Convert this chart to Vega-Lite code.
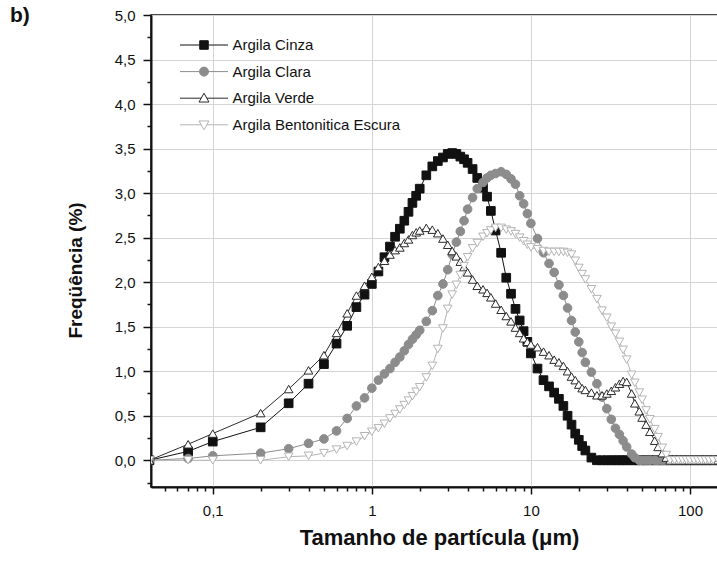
{
  "$schema": "https://vega.github.io/schema/vega-lite/v6.json",
  "width": 570,
  "height": 472,
  "autosize": {"type": "none"},
  "padding": {"left": 151, "top": 15, "right": 0, "bottom": 74},
  "background": "white",
  "config": {
    "view": {"stroke": "#111", "strokeWidth": 1.5},
    "font": "Liberation Sans",
    "legend": {
      "title": null, "orient": "none", "legendX": 28.5, "legendY": 22.5, "padding": 0,
      "symbolSize": 81, "symbolStrokeWidth": 1, "symbolOffset": 17, "symbolOpacity": 1,
      "rowPadding": 10.6, "labelOffset": 21,
      "labelFont": "Liberation Sans", "labelFontSize": 15, "labelColor": "#111", "labelLimit": 400
    }
  },
  "title": {"text": "b)", "anchor": "start", "frame": "group", "dx": -141, "dy": 35, "offset": 0, "baseline": "alphabetic", "fontSize": 21, "fontWeight": "bold", "font": "Liberation Sans", "color": "#111"},
  "data": {"values": [
    {"s":"Argila Cinza","x":0.04,"y":0},{"s":"Argila Cinza","x":0.07,"y":0.10},{"s":"Argila Cinza","x":0.1,"y":0.21},{"s":"Argila Cinza","x":0.2,"y":0.37},{"s":"Argila Cinza","x":0.3,"y":0.64},{"s":"Argila Cinza","x":0.4,"y":0.86},{"s":"Argila Cinza","x":0.5,"y":1.08},{"s":"Argila Cinza","x":0.6,"y":1.31},{"s":"Argila Cinza","x":0.7,"y":1.51},{"s":"Argila Cinza","x":0.8,"y":1.72},{"s":"Argila Cinza","x":0.9,"y":1.86},{"s":"Argila Cinza","x":1,"y":1.98},{"s":"Argila Cinza","x":1.1,"y":2.12},{"s":"Argila Cinza","x":1.2,"y":2.28},{"s":"Argila Cinza","x":1.3,"y":2.40},{"s":"Argila Cinza","x":1.4,"y":2.51},{"s":"Argila Cinza","x":1.5,"y":2.60},{"s":"Argila Cinza","x":1.6,"y":2.69},{"s":"Argila Cinza","x":1.7,"y":2.79},{"s":"Argila Cinza","x":1.8,"y":2.89},{"s":"Argila Cinza","x":1.9,"y":2.97},{"s":"Argila Cinza","x":2,"y":3.05},{"s":"Argila Cinza","x":2.2,"y":3.20},{"s":"Argila Cinza","x":2.4,"y":3.30},{"s":"Argila Cinza","x":2.6,"y":3.36},{"s":"Argila Cinza","x":2.8,"y":3.40},{"s":"Argila Cinza","x":3,"y":3.44},{"s":"Argila Cinza","x":3.2,"y":3.45},{"s":"Argila Cinza","x":3.4,"y":3.44},{"s":"Argila Cinza","x":3.6,"y":3.41},{"s":"Argila Cinza","x":3.8,"y":3.38},{"s":"Argila Cinza","x":4,"y":3.34},{"s":"Argila Cinza","x":4.3,"y":3.27},{"s":"Argila Cinza","x":4.6,"y":3.17},{"s":"Argila Cinza","x":5,"y":3.06},{"s":"Argila Cinza","x":5.3,"y":2.96},{"s":"Argila Cinza","x":5.6,"y":2.80},{"s":"Argila Cinza","x":6,"y":2.58},{"s":"Argila Cinza","x":6.5,"y":2.33},{"s":"Argila Cinza","x":7,"y":2.05},{"s":"Argila Cinza","x":7.5,"y":1.87},{"s":"Argila Cinza","x":8,"y":1.70},{"s":"Argila Cinza","x":8.5,"y":1.57},{"s":"Argila Cinza","x":9,"y":1.45},{"s":"Argila Cinza","x":9.5,"y":1.33},{"s":"Argila Cinza","x":10,"y":1.20},{"s":"Argila Cinza","x":11,"y":1.03},{"s":"Argila Cinza","x":12,"y":0.90},{"s":"Argila Cinza","x":13,"y":0.83},{"s":"Argila Cinza","x":14,"y":0.76},{"s":"Argila Cinza","x":15,"y":0.69},{"s":"Argila Cinza","x":16,"y":0.61},{"s":"Argila Cinza","x":17,"y":0.50},{"s":"Argila Cinza","x":18,"y":0.40},{"s":"Argila Cinza","x":19,"y":0.30},{"s":"Argila Cinza","x":20,"y":0.23},{"s":"Argila Cinza","x":21,"y":0.16},{"s":"Argila Cinza","x":22,"y":0.11},{"s":"Argila Cinza","x":24,"y":0.03},{"s":"Argila Cinza","x":26,"y":0},{"s":"Argila Cinza","x":28,"y":0},{"s":"Argila Cinza","x":30,"y":0},{"s":"Argila Cinza","x":32,"y":0},{"s":"Argila Cinza","x":34,"y":0},{"s":"Argila Cinza","x":36,"y":0},{"s":"Argila Cinza","x":38,"y":0},{"s":"Argila Cinza","x":40,"y":0},{"s":"Argila Cinza","x":43,"y":0},{"s":"Argila Cinza","x":45,"y":0},{"s":"Argila Cinza","x":48,"y":0},{"s":"Argila Cinza","x":50,"y":0},{"s":"Argila Cinza","x":53,"y":0},{"s":"Argila Cinza","x":56,"y":0},{"s":"Argila Cinza","x":60,"y":0},{"s":"Argila Cinza","x":63,"y":0},{"s":"Argila Cinza","x":67,"y":0},{"s":"Argila Cinza","x":71,"y":0},{"s":"Argila Cinza","x":75,"y":0},{"s":"Argila Cinza","x":80,"y":0},{"s":"Argila Cinza","x":85,"y":0},{"s":"Argila Cinza","x":90,"y":0},{"s":"Argila Cinza","x":95,"y":0},{"s":"Argila Cinza","x":100,"y":0},{"s":"Argila Cinza","x":106,"y":0},{"s":"Argila Cinza","x":112,"y":0},{"s":"Argila Cinza","x":118,"y":0},{"s":"Argila Cinza","x":125,"y":0},{"s":"Argila Cinza","x":132,"y":0},{"s":"Argila Cinza","x":140,"y":0},{"s":"Argila Cinza","x":150,"y":0},{"s":"Argila Cinza","x":160,"y":0},
    {"s":"Argila Clara","x":0.04,"y":0},{"s":"Argila Clara","x":0.07,"y":0.02},{"s":"Argila Clara","x":0.1,"y":0.05},{"s":"Argila Clara","x":0.2,"y":0.08},{"s":"Argila Clara","x":0.3,"y":0.13},{"s":"Argila Clara","x":0.4,"y":0.19},{"s":"Argila Clara","x":0.5,"y":0.24},{"s":"Argila Clara","x":0.6,"y":0.33},{"s":"Argila Clara","x":0.7,"y":0.47},{"s":"Argila Clara","x":0.8,"y":0.61},{"s":"Argila Clara","x":0.9,"y":0.70},{"s":"Argila Clara","x":1,"y":0.81},{"s":"Argila Clara","x":1.1,"y":0.90},{"s":"Argila Clara","x":1.2,"y":0.97},{"s":"Argila Clara","x":1.3,"y":1.03},{"s":"Argila Clara","x":1.4,"y":1.10},{"s":"Argila Clara","x":1.5,"y":1.16},{"s":"Argila Clara","x":1.6,"y":1.23},{"s":"Argila Clara","x":1.7,"y":1.30},{"s":"Argila Clara","x":1.8,"y":1.36},{"s":"Argila Clara","x":1.9,"y":1.41},{"s":"Argila Clara","x":2,"y":1.46},{"s":"Argila Clara","x":2.2,"y":1.56},{"s":"Argila Clara","x":2.4,"y":1.68},{"s":"Argila Clara","x":2.6,"y":1.85},{"s":"Argila Clara","x":2.8,"y":1.98},{"s":"Argila Clara","x":3,"y":2.14},{"s":"Argila Clara","x":3.2,"y":2.31},{"s":"Argila Clara","x":3.4,"y":2.45},{"s":"Argila Clara","x":3.6,"y":2.57},{"s":"Argila Clara","x":3.8,"y":2.69},{"s":"Argila Clara","x":4,"y":2.82},{"s":"Argila Clara","x":4.3,"y":2.95},{"s":"Argila Clara","x":4.6,"y":3.05},{"s":"Argila Clara","x":5,"y":3.12},{"s":"Argila Clara","x":5.3,"y":3.17},{"s":"Argila Clara","x":5.6,"y":3.20},{"s":"Argila Clara","x":6,"y":3.22},{"s":"Argila Clara","x":6.5,"y":3.24},{"s":"Argila Clara","x":7,"y":3.21},{"s":"Argila Clara","x":7.5,"y":3.16},{"s":"Argila Clara","x":8,"y":3.10},{"s":"Argila Clara","x":8.5,"y":2.97},{"s":"Argila Clara","x":9,"y":2.88},{"s":"Argila Clara","x":9.5,"y":2.77},{"s":"Argila Clara","x":10,"y":2.66},{"s":"Argila Clara","x":11,"y":2.49},{"s":"Argila Clara","x":12,"y":2.33},{"s":"Argila Clara","x":13,"y":2.21},{"s":"Argila Clara","x":14,"y":2.11},{"s":"Argila Clara","x":15,"y":1.97},{"s":"Argila Clara","x":16,"y":1.85},{"s":"Argila Clara","x":17,"y":1.71},{"s":"Argila Clara","x":18,"y":1.57},{"s":"Argila Clara","x":19,"y":1.44},{"s":"Argila Clara","x":20,"y":1.33},{"s":"Argila Clara","x":21,"y":1.21},{"s":"Argila Clara","x":22,"y":1.10},{"s":"Argila Clara","x":24,"y":0.99},{"s":"Argila Clara","x":26,"y":0.86},{"s":"Argila Clara","x":28,"y":0.71},{"s":"Argila Clara","x":30,"y":0.58},{"s":"Argila Clara","x":32,"y":0.46},{"s":"Argila Clara","x":34,"y":0.36},{"s":"Argila Clara","x":36,"y":0.29},{"s":"Argila Clara","x":38,"y":0.22},{"s":"Argila Clara","x":40,"y":0.15},{"s":"Argila Clara","x":43,"y":0.07},{"s":"Argila Clara","x":45,"y":0.03},{"s":"Argila Clara","x":48,"y":0},{"s":"Argila Clara","x":50,"y":0},{"s":"Argila Clara","x":53,"y":0},{"s":"Argila Clara","x":56,"y":0},{"s":"Argila Clara","x":60,"y":0},{"s":"Argila Clara","x":63,"y":0},{"s":"Argila Clara","x":67,"y":0},{"s":"Argila Clara","x":71,"y":0},{"s":"Argila Clara","x":75,"y":0},{"s":"Argila Clara","x":80,"y":0},{"s":"Argila Clara","x":85,"y":0},{"s":"Argila Clara","x":90,"y":0},{"s":"Argila Clara","x":95,"y":0},{"s":"Argila Clara","x":100,"y":0},{"s":"Argila Clara","x":106,"y":0},{"s":"Argila Clara","x":112,"y":0},{"s":"Argila Clara","x":118,"y":0},{"s":"Argila Clara","x":125,"y":0},{"s":"Argila Clara","x":132,"y":0},{"s":"Argila Clara","x":140,"y":0},{"s":"Argila Clara","x":150,"y":0},{"s":"Argila Clara","x":160,"y":0},
    {"s":"Argila Verde","x":0.04,"y":0},{"s":"Argila Verde","x":0.07,"y":0.18},{"s":"Argila Verde","x":0.1,"y":0.30},{"s":"Argila Verde","x":0.2,"y":0.53},{"s":"Argila Verde","x":0.3,"y":0.80},{"s":"Argila Verde","x":0.4,"y":1.01},{"s":"Argila Verde","x":0.5,"y":1.18},{"s":"Argila Verde","x":0.6,"y":1.43},{"s":"Argila Verde","x":0.7,"y":1.65},{"s":"Argila Verde","x":0.8,"y":1.85},{"s":"Argila Verde","x":0.9,"y":1.96},{"s":"Argila Verde","x":1,"y":2.06},{"s":"Argila Verde","x":1.1,"y":2.17},{"s":"Argila Verde","x":1.2,"y":2.24},{"s":"Argila Verde","x":1.3,"y":2.31},{"s":"Argila Verde","x":1.4,"y":2.36},{"s":"Argila Verde","x":1.5,"y":2.39},{"s":"Argila Verde","x":1.6,"y":2.44},{"s":"Argila Verde","x":1.7,"y":2.48},{"s":"Argila Verde","x":1.8,"y":2.53},{"s":"Argila Verde","x":1.9,"y":2.56},{"s":"Argila Verde","x":2,"y":2.58},{"s":"Argila Verde","x":2.2,"y":2.61},{"s":"Argila Verde","x":2.4,"y":2.59},{"s":"Argila Verde","x":2.6,"y":2.55},{"s":"Argila Verde","x":2.8,"y":2.49},{"s":"Argila Verde","x":3,"y":2.42},{"s":"Argila Verde","x":3.2,"y":2.35},{"s":"Argila Verde","x":3.4,"y":2.29},{"s":"Argila Verde","x":3.6,"y":2.23},{"s":"Argila Verde","x":3.8,"y":2.17},{"s":"Argila Verde","x":4,"y":2.11},{"s":"Argila Verde","x":4.3,"y":2.03},{"s":"Argila Verde","x":4.6,"y":1.96},{"s":"Argila Verde","x":5,"y":1.92},{"s":"Argila Verde","x":5.3,"y":1.88},{"s":"Argila Verde","x":5.6,"y":1.83},{"s":"Argila Verde","x":6,"y":1.76},{"s":"Argila Verde","x":6.5,"y":1.69},{"s":"Argila Verde","x":7,"y":1.62},{"s":"Argila Verde","x":7.5,"y":1.56},{"s":"Argila Verde","x":8,"y":1.49},{"s":"Argila Verde","x":8.5,"y":1.43},{"s":"Argila Verde","x":9,"y":1.37},{"s":"Argila Verde","x":9.5,"y":1.33},{"s":"Argila Verde","x":10,"y":1.30},{"s":"Argila Verde","x":11,"y":1.27},{"s":"Argila Verde","x":12,"y":1.22},{"s":"Argila Verde","x":13,"y":1.18},{"s":"Argila Verde","x":14,"y":1.13},{"s":"Argila Verde","x":15,"y":1.10},{"s":"Argila Verde","x":16,"y":1.06},{"s":"Argila Verde","x":17,"y":1.00},{"s":"Argila Verde","x":18,"y":0.94},{"s":"Argila Verde","x":19,"y":0.90},{"s":"Argila Verde","x":20,"y":0.85},{"s":"Argila Verde","x":21,"y":0.81},{"s":"Argila Verde","x":22,"y":0.79},{"s":"Argila Verde","x":24,"y":0.76},{"s":"Argila Verde","x":26,"y":0.73},{"s":"Argila Verde","x":28,"y":0.73},{"s":"Argila Verde","x":30,"y":0.75},{"s":"Argila Verde","x":32,"y":0.78},{"s":"Argila Verde","x":34,"y":0.82},{"s":"Argila Verde","x":36,"y":0.86},{"s":"Argila Verde","x":38,"y":0.89},{"s":"Argila Verde","x":40,"y":0.88},{"s":"Argila Verde","x":43,"y":0.75},{"s":"Argila Verde","x":45,"y":0.64},{"s":"Argila Verde","x":48,"y":0.55},{"s":"Argila Verde","x":50,"y":0.48},{"s":"Argila Verde","x":53,"y":0.40},{"s":"Argila Verde","x":56,"y":0.32},{"s":"Argila Verde","x":60,"y":0.22},{"s":"Argila Verde","x":63,"y":0.15},{"s":"Argila Verde","x":67,"y":0.08},{"s":"Argila Verde","x":71,"y":0.03},{"s":"Argila Verde","x":75,"y":0},{"s":"Argila Verde","x":80,"y":0},{"s":"Argila Verde","x":85,"y":0},{"s":"Argila Verde","x":90,"y":0},{"s":"Argila Verde","x":95,"y":0},{"s":"Argila Verde","x":100,"y":0},{"s":"Argila Verde","x":106,"y":0},{"s":"Argila Verde","x":112,"y":0},{"s":"Argila Verde","x":118,"y":0},{"s":"Argila Verde","x":125,"y":0},{"s":"Argila Verde","x":132,"y":0},{"s":"Argila Verde","x":140,"y":0},{"s":"Argila Verde","x":150,"y":0},{"s":"Argila Verde","x":160,"y":0},
    {"s":"Argila Bentonitica Escura","x":0.04,"y":0},{"s":"Argila Bentonitica Escura","x":0.07,"y":0},{"s":"Argila Bentonitica Escura","x":0.1,"y":0},{"s":"Argila Bentonitica Escura","x":0.2,"y":0},{"s":"Argila Bentonitica Escura","x":0.3,"y":0.04},{"s":"Argila Bentonitica Escura","x":0.4,"y":0.05},{"s":"Argila Bentonitica Escura","x":0.5,"y":0.08},{"s":"Argila Bentonitica Escura","x":0.6,"y":0.12},{"s":"Argila Bentonitica Escura","x":0.7,"y":0.16},{"s":"Argila Bentonitica Escura","x":0.8,"y":0.21},{"s":"Argila Bentonitica Escura","x":0.9,"y":0.27},{"s":"Argila Bentonitica Escura","x":1,"y":0.32},{"s":"Argila Bentonitica Escura","x":1.1,"y":0.36},{"s":"Argila Bentonitica Escura","x":1.2,"y":0.41},{"s":"Argila Bentonitica Escura","x":1.3,"y":0.47},{"s":"Argila Bentonitica Escura","x":1.4,"y":0.52},{"s":"Argila Bentonitica Escura","x":1.5,"y":0.57},{"s":"Argila Bentonitica Escura","x":1.6,"y":0.62},{"s":"Argila Bentonitica Escura","x":1.7,"y":0.67},{"s":"Argila Bentonitica Escura","x":1.8,"y":0.72},{"s":"Argila Bentonitica Escura","x":1.9,"y":0.77},{"s":"Argila Bentonitica Escura","x":2,"y":0.82},{"s":"Argila Bentonitica Escura","x":2.2,"y":0.93},{"s":"Argila Bentonitica Escura","x":2.4,"y":1.06},{"s":"Argila Bentonitica Escura","x":2.6,"y":1.25},{"s":"Argila Bentonitica Escura","x":2.8,"y":1.48},{"s":"Argila Bentonitica Escura","x":3,"y":1.70},{"s":"Argila Bentonitica Escura","x":3.2,"y":1.86},{"s":"Argila Bentonitica Escura","x":3.4,"y":1.97},{"s":"Argila Bentonitica Escura","x":3.6,"y":2.08},{"s":"Argila Bentonitica Escura","x":3.8,"y":2.18},{"s":"Argila Bentonitica Escura","x":4,"y":2.28},{"s":"Argila Bentonitica Escura","x":4.3,"y":2.38},{"s":"Argila Bentonitica Escura","x":4.6,"y":2.44},{"s":"Argila Bentonitica Escura","x":5,"y":2.51},{"s":"Argila Bentonitica Escura","x":5.3,"y":2.55},{"s":"Argila Bentonitica Escura","x":5.6,"y":2.58},{"s":"Argila Bentonitica Escura","x":6,"y":2.61},{"s":"Argila Bentonitica Escura","x":6.5,"y":2.61},{"s":"Argila Bentonitica Escura","x":7,"y":2.59},{"s":"Argila Bentonitica Escura","x":7.5,"y":2.57},{"s":"Argila Bentonitica Escura","x":8,"y":2.54},{"s":"Argila Bentonitica Escura","x":8.5,"y":2.50},{"s":"Argila Bentonitica Escura","x":9,"y":2.46},{"s":"Argila Bentonitica Escura","x":9.5,"y":2.42},{"s":"Argila Bentonitica Escura","x":10,"y":2.39},{"s":"Argila Bentonitica Escura","x":11,"y":2.37},{"s":"Argila Bentonitica Escura","x":12,"y":2.35},{"s":"Argila Bentonitica Escura","x":13,"y":2.34},{"s":"Argila Bentonitica Escura","x":14,"y":2.34},{"s":"Argila Bentonitica Escura","x":15,"y":2.34},{"s":"Argila Bentonitica Escura","x":16,"y":2.34},{"s":"Argila Bentonitica Escura","x":17,"y":2.33},{"s":"Argila Bentonitica Escura","x":18,"y":2.31},{"s":"Argila Bentonitica Escura","x":19,"y":2.24},{"s":"Argila Bentonitica Escura","x":20,"y":2.16},{"s":"Argila Bentonitica Escura","x":21,"y":2.09},{"s":"Argila Bentonitica Escura","x":22,"y":2.03},{"s":"Argila Bentonitica Escura","x":24,"y":1.92},{"s":"Argila Bentonitica Escura","x":26,"y":1.81},{"s":"Argila Bentonitica Escura","x":28,"y":1.68},{"s":"Argila Bentonitica Escura","x":30,"y":1.60},{"s":"Argila Bentonitica Escura","x":32,"y":1.50},{"s":"Argila Bentonitica Escura","x":34,"y":1.42},{"s":"Argila Bentonitica Escura","x":36,"y":1.33},{"s":"Argila Bentonitica Escura","x":38,"y":1.24},{"s":"Argila Bentonitica Escura","x":40,"y":1.13},{"s":"Argila Bentonitica Escura","x":43,"y":0.96},{"s":"Argila Bentonitica Escura","x":45,"y":0.87},{"s":"Argila Bentonitica Escura","x":48,"y":0.76},{"s":"Argila Bentonitica Escura","x":50,"y":0.68},{"s":"Argila Bentonitica Escura","x":53,"y":0.56},{"s":"Argila Bentonitica Escura","x":56,"y":0.46},{"s":"Argila Bentonitica Escura","x":60,"y":0.35},{"s":"Argila Bentonitica Escura","x":63,"y":0.26},{"s":"Argila Bentonitica Escura","x":67,"y":0.14},{"s":"Argila Bentonitica Escura","x":71,"y":0.06},{"s":"Argila Bentonitica Escura","x":75,"y":0},{"s":"Argila Bentonitica Escura","x":80,"y":0},{"s":"Argila Bentonitica Escura","x":85,"y":0},{"s":"Argila Bentonitica Escura","x":90,"y":0},{"s":"Argila Bentonitica Escura","x":95,"y":0},{"s":"Argila Bentonitica Escura","x":100,"y":0},{"s":"Argila Bentonitica Escura","x":106,"y":0},{"s":"Argila Bentonitica Escura","x":112,"y":0},{"s":"Argila Bentonitica Escura","x":118,"y":0},{"s":"Argila Bentonitica Escura","x":125,"y":0},{"s":"Argila Bentonitica Escura","x":132,"y":0},{"s":"Argila Bentonitica Escura","x":140,"y":0},{"s":"Argila Bentonitica Escura","x":150,"y":0},{"s":"Argila Bentonitica Escura","x":160,"y":0}
  ]},
  "encoding": {
    "x": {
      "field": "x", "type": "quantitative",
      "scale": {"type": "log", "domain": [0.0409, 156.7], "nice": false},
      "axis": {
        "title": "Tamanho de partícula (μm)",
        "titleFont": "Liberation Sans", "titleFontSize": 22, "titleFontWeight": "bold", "titleColor": "#111",
        "titleX": 288, "titleY": 50, "titleAlign": "center", "titleBaseline": "middle",
        "values": [0.05,0.06,0.07,0.08,0.09,0.1,0.2,0.3,0.4,0.5,0.6,0.7,0.8,0.9,1,2,3,4,5,6,7,8,9,10,20,30,40,50,60,70,80,90,100],
        "labelExpr": "datum.value == 0.1 ? '0,1' : datum.value == 1 ? '1' : datum.value == 10 ? '10' : datum.value == 100 ? '100' : ''",
        "labelFont": "Liberation Sans", "labelFontSize": 15, "labelColor": "#111",
        "labelPadding": 9, "labelOverlap": false, "labelFlush": false,
        "tickColor": "#111", "tickWidth": 1.5,
        "tickSize": {"condition": {"test": "datum.value == 0.1 || datum.value == 1 || datum.value == 10 || datum.value == 100", "value": 7}, "value": 4},
        "domainColor": "#111", "domainWidth": 2,
        "grid": true, "gridColor": "#d4d4d4", "gridWidth": 1,
        "gridOpacity": {"condition": {"test": "datum.value == 0.1 || datum.value == 1 || datum.value == 10 || datum.value == 100", "value": 1}, "value": 0}
      }
    },
    "y": {
      "field": "y", "type": "quantitative",
      "scale": {"domain": [-0.3, 5.0], "nice": false, "zero": false},
      "axis": {
        "title": "Freqüência (%)",
        "titleFont": "Liberation Sans", "titleFontSize": 19, "titleFontWeight": "bold", "titleColor": "#111",
        "titleX": -76, "titleY": 255, "titleAlign": "center", "titleBaseline": "middle", "titleAngle": 270,
        "values": [-0.25,0,0.25,0.5,0.75,1,1.25,1.5,1.75,2,2.25,2.5,2.75,3,3.25,3.5,3.75,4,4.25,4.5,4.75,5],
        "labelExpr": "(datum.value * 2) % 1 == 0 ? replace(format(datum.value, '.1f'), '.', ',') : ''",
        "labelFont": "Liberation Sans", "labelFontSize": 15, "labelColor": "#111",
        "labelPadding": 8, "labelOverlap": false, "labelFlush": false,
        "tickColor": "#111", "tickWidth": 1.5,
        "tickSize": {"condition": {"test": "(datum.value * 2) % 1 == 0", "value": 8}, "value": 4},
        "domainColor": "#111", "domainWidth": 2,
        "grid": true, "gridColor": "#d4d4d4", "gridWidth": 1,
        "gridOpacity": {"condition": {"test": "(datum.value * 2) % 1 == 0 && datum.value >= 0", "value": 1}, "value": 0}
      }
    }
  },
  "resolve": {"scale": {"shape": "independent"}, "legend": {"shape": "independent", "fill": "independent", "stroke": "independent"}},
  "layer": [
    {
      "mark": {"type": "line", "strokeWidth": 1, "clip": true},
      "encoding": {
        "stroke": {"field": "s", "type": "nominal",
          "scale": {"domain": ["Argila Cinza","Argila Clara","Argila Verde","Argila Bentonitica Escura"], "range": ["#111111","#8c8c8c","#2a2a2a","#b4b4b4"]},
          "legend": null}
      }
    },
    {
      "mark": {"type": "point", "filled": true, "clip": true, "strokeWidth": 1, "opacity": 1, "size": 75},
      "encoding": {
        "shape": {"field": "s", "type": "nominal",
          "scale": {"domain": ["Argila Cinza","Argila Clara","Argila Verde","Argila Bentonitica Escura"], "range": ["square","circle","triangle-up","triangle-down"]},
          "legend": null},
        "fill": {"field": "s", "type": "nominal",
          "scale": {"domain": ["Argila Cinza","Argila Clara","Argila Verde","Argila Bentonitica Escura"], "range": ["#111111","#8c8c8c","#ffffff","#ffffff"]},
          "legend": null},
        "stroke": {"field": "s", "type": "nominal",
          "scale": {"domain": ["Argila Cinza","Argila Clara","Argila Verde","Argila Bentonitica Escura"], "range": ["#111111","#8c8c8c","#2a2a2a","#b4b4b4"]},
          "legend": null}
      }
    },
    {
      "mark": {"type": "point", "filled": true, "clip": true, "opacity": 0},
      "encoding": {
        "shape": {"field": "s", "type": "nominal",
          "scale": {"domain": ["Argila Cinza","Argila Clara","Argila Verde","Argila Bentonitica Escura"], "range": [
            "M-5.33,0H-0.95M0.95,0H5.33M-0.95,-0.95H0.95V0.95H-0.95Z",
            "M-5.33,0H-1M1,0H5.33M-1,0A1,1,0,1,0,1,0A1,1,0,1,0,-1,0Z",
            "M-5.33,0H-0.63M0.63,0H5.33M0,-1.1L1.11,0.85H-1.11Z",
            "M-5.33,0H-0.63M0.63,0H5.33M0,1.1L1.11,-0.85H-1.11Z"]},
          "legend": {}},
        "fill": {"field": "s", "type": "nominal",
          "scale": {"domain": ["Argila Cinza","Argila Clara","Argila Verde","Argila Bentonitica Escura"], "range": ["#111111","#8c8c8c","#ffffff","#ffffff"]},
          "legend": {}},
        "stroke": {"field": "s", "type": "nominal",
          "scale": {"domain": ["Argila Cinza","Argila Clara","Argila Verde","Argila Bentonitica Escura"], "range": ["#111111","#8c8c8c","#2a2a2a","#b4b4b4"]},
          "legend": {}}
      }
    }
  ]
}
